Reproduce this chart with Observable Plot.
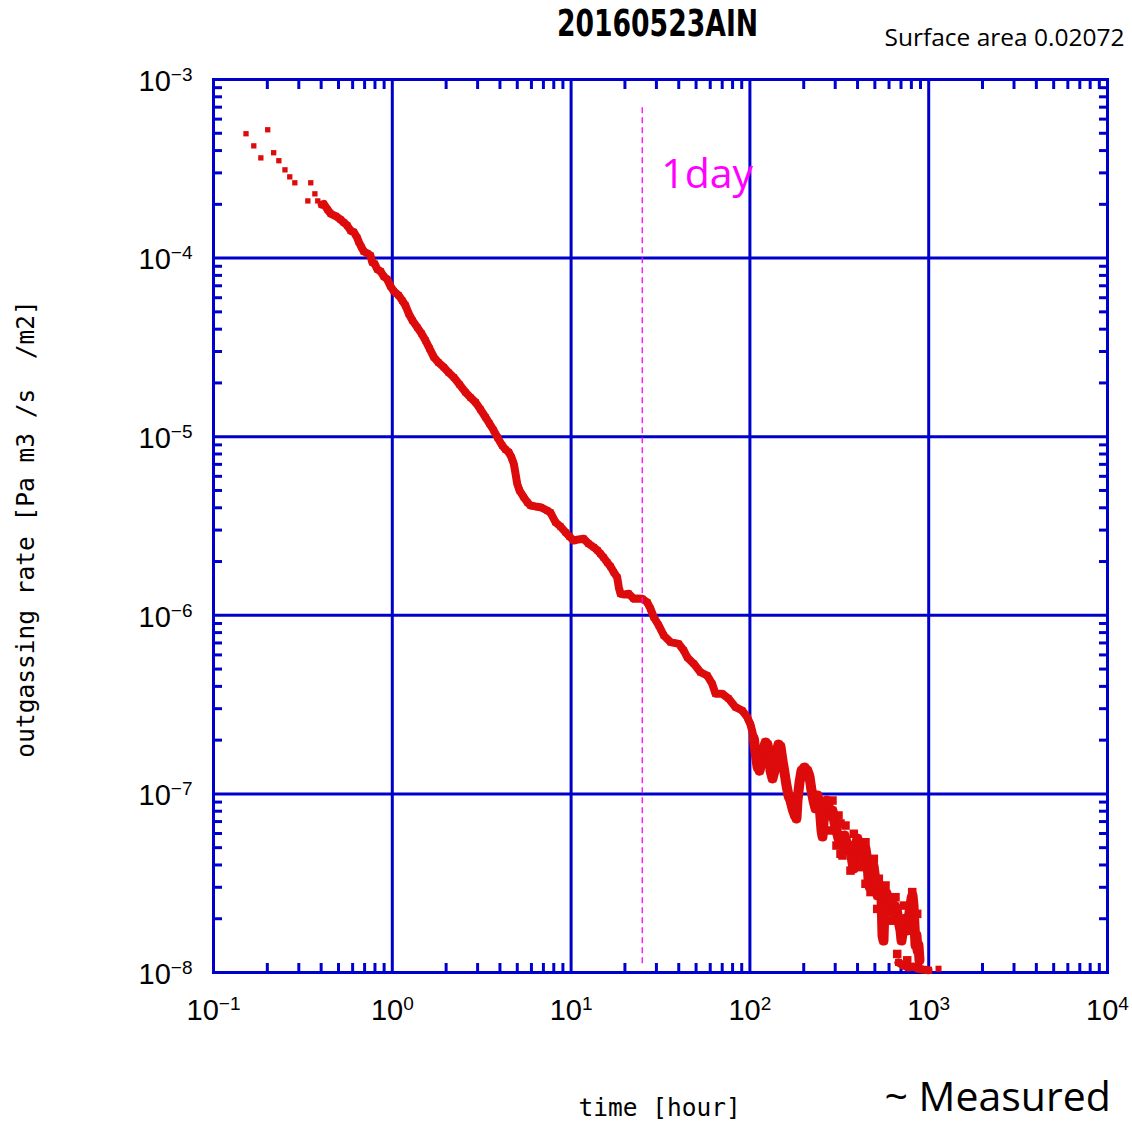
<!DOCTYPE html>
<html>
<head>
<meta charset="utf-8">
<script src="https://cdn.jsdelivr.net/npm/d3@7"></script>
<script src="https://cdn.jsdelivr.net/npm/@observablehq/plot@0.6"></script>
<style>
  html, body { margin: 0; padding: 0; background: #fff; }
  #chart { width: 1132px; height: 1121px; overflow: hidden; }
</style>
</head>
<body>
<div id="chart"></div>
<script>
// ---------- data ----------
// sparse early points (hours, Pa m3/s/m2)
const sparseTime = [0.152, 0.201, 0.168, 0.184, 0.217, 0.232, 0.251, 0.267, 0.285, 0.350, 0.369, 0.337, 0.383];
const sparseRate = [4.97e-4, 5.23e-4, 4.25e-4, 3.64e-4, 3.89e-4, 3.51e-4, 3.12e-4, 2.85e-4, 2.64e-4, 2.64e-4, 2.29e-4, 2.09e-4, 2.09e-4];

// dense, smooth part of the trace
const denseTime = [0.403, 0.414, 0.436, 0.453, 0.483, 0.515, 0.536, 0.560, 0.586, 0.609, 0.636, 0.650, 0.670, 0.693, 0.724, 0.755, 0.772, 0.798, 0.823, 0.859, 0.897, 0.936, 0.977, 1.02, 1.087, 1.136, 1.185,
  1.237, 1.297, 1.378, 1.457, 1.534, 1.615, 1.707, 1.813, 1.941, 2.063, 2.208, 2.376, 2.567, 2.738, 2.92, 3.113, 3.321, 3.497, 3.695, 3.876,
  4.117, 4.296, 4.483, 4.642, 4.782, 4.888, 4.995, 5.145, 5.439, 5.704, 5.928, 6.323, 6.745, 7.35, 7.67, 8.18, 8.72, 9.30, 9.80, 10.35,
  11.0, 11.78, 12.51, 13.40, 14.05, 14.60, 15.18, 15.92, 16.61, 17.34, 18.10, 18.48, 18.89, 19.89, 21.02, 22.43, 23.52, 24.98, 26.65, 27.81,
  29.0, 30.94, 33.0, 35.97, 40.02, 42.7, 44.6, 48.6, 52.9, 57.7, 61.5, 64.2, 70.0, 76.2, 83.1, 90.6, 96.6, 100.8, 103.4, 105.2];
const denseRate = [1.99e-4, 2.01e-4, 1.86e-4, 1.77e-4, 1.72e-4, 1.64e-4, 1.58e-4, 1.52e-4, 1.42e-4, 1.40e-4, 1.30e-4, 1.23e-4, 1.157e-4, 1.089e-4, 1.065e-4, 1.034e-4, 9.48e-5, 9.29e-5, 8.66e-5, 8.45e-5, 7.88e-5, 7.62e-5, 6.96e-5, 6.53e-5, 6.17e-5, 5.79e-5, 5.43e-5,
  4.88e-5, 4.47e-5, 4.10e-5, 3.78e-5, 3.46e-5, 3.12e-5, 2.79e-5, 2.60e-5, 2.45e-5, 2.29e-5, 2.15e-5, 1.96e-5, 1.775e-5, 1.657e-5, 1.56e-5, 1.42e-5, 1.286e-5, 1.185e-5, 1.083e-5, 9.9e-6,
  8.93e-6, 8.48e-6, 8.19e-6, 7.65e-6, 7.05e-6, 6.22e-6, 5.45e-6, 5.00e-6, 4.58e-6, 4.28e-6, 4.12e-6, 4.07e-6, 4.03e-6, 3.86e-6, 3.76e-6, 3.32e-6, 3.14e-6, 2.92e-6, 2.76e-6, 2.62e-6,
  2.66e-6, 2.68e-6, 2.52e-6, 2.405e-6, 2.31e-6, 2.21e-6, 2.11e-6, 1.98e-6, 1.875e-6, 1.742e-6, 1.634e-6, 1.437e-6, 1.32e-6, 1.307e-6, 1.32e-6, 1.237e-6, 1.242e-6, 1.237e-6, 1.184e-6, 1.088e-6,
  9.76e-7, 8.77e-7, 7.71e-7, 7.07e-7, 6.92e-7, 6.35e-7, 5.82e-7, 5.35e-7, 4.80e-7, 4.60e-7, 4.135e-7, 3.635e-7, 3.635e-7, 3.41e-7, 3.06e-7, 2.93e-7, 2.69e-7, 2.446e-7, 2.21e-7, 2.04e-7];

// noisy part after ~100 h
const noisyTime = [107.5, 110.3, 113.2, 116.1, 119.2, 122.3, 125.4, 128.7, 130.4, 133.8, 137.3, 140.8, 144.5, 148.3, 152.1, 156.1, 160.2, 164.4, 168.7, 173.1,
  177.6, 182.2, 184.6, 189.4, 194.4, 202.0, 209.9, 215.4, 221.1, 226.8, 232.8, 238.8, 245.1, 251.5, 254.7, 261.4, 268.2, 275.2, 282.4, 289.7,
  297.3, 305.0, 313.0, 321.1, 329.5, 338.1, 347.0, 356.0, 365.2, 374.8, 379.7, 389.6, 399.8, 410.2, 420.9, 431.8, 443.1, 454.6, 460.5, 466.5,
  478.6, 491.2, 504.0, 517.1, 530.6, 544.5, 551.5, 558.7, 565.9, 580.7, 595.8, 611.4, 627.3, 643.7, 660.6, 677.8, 695.6, 704.6, 723.0, 741.8,
  761.3, 781.1, 801.5, 811.9, 822.4, 833.0, 843.9, 854.8, 865.9, 877.1, 888.3];
const noisyRate = [1.705e-7, 1.42e-7, 1.35e-7, 1.50e-7, 1.795e-7, 1.94e-7, 1.89e-7, 1.64e-7, 1.35e-7, 1.22e-7, 1.35e-7, 1.705e-7, 1.89e-7, 1.84e-7, 1.54e-7, 1.317e-7, 1.114e-7, 9.79e-8, 9.18e-8, 8.28e-8,
  7.67e-8, 7.28e-8, 9.18e-8, 1.158e-7, 1.35e-7, 1.405e-7, 1.35e-7, 1.25e-7, 1.045e-7, 9.18e-8, 8.28e-8, 9.79e-8, 8.72e-8, 6.24e-8, 5.77e-8, 8.28e-8, 9.18e-8, 8.61e-8, 7.57e-8, 8.07e-8,
  6.92e-8, 6.24e-8, 5.63e-8, 5.77e-8, 5.14e-8, 5.85e-8, 5.34e-8, 4.82e-8, 4.95e-8, 4.13e-8, 3.82e-8, 5.14e-8, 5.63e-8, 4.82e-8, 4.35e-8, 4.82e-8, 4.95e-8, 4.13e-8, 3.36e-8, 3.03e-8,
  3.72e-8, 3.97e-8, 3.27e-8, 2.70e-8, 3.07e-8, 2.70e-8, 1.61e-8, 1.51e-8, 2.37e-8, 2.77e-8, 2.60e-8, 2.37e-8, 2.17e-8, 2.37e-8, 2.28e-8, 1.95e-8, 1.72e-8, 1.51e-8, 1.83e-8, 2.005e-8,
  1.72e-8, 2.17e-8, 2.60e-8, 2.70e-8, 2.37e-8, 1.83e-8, 1.42e-8, 1.61e-8, 1.33e-8, 1.42e-8, 1.17e-8];

// scattered points at the edges of the noisy band
const bandTime = [289.7, 313.0, 342.5, 282.4, 305.0, 329.5, 321.1, 381.2, 443.1, 493.2, 526.0, 573.4, 652.1, 725.5, 808.7, 862.4,
  321.1, 365.2, 415.5, 443.1, 472.6, 515.2, 611.4, 666.5, 758.3];
const bandRate = [9.18e-8, 7.57e-8, 6.65e-8, 6.24e-8, 5.14e-8, 4.52e-8, 6.83e-8, 5.98e-8, 5.36e-8, 4.33e-8, 3.35e-8, 3.07e-8, 2.64e-8, 2.37e-8, 2.82e-8, 2.13e-8,
  4.62e-8, 3.72e-8, 3.89e-8, 3.14e-8, 2.82e-8, 2.27e-8, 1.95e-8, 1.27e-8, 1.17e-8];

// points lying on the bottom edge near 1000 h
const tailTime = [677.8, 723.0, 770.9, 822.4, 877.1, 935.3, 997.5];
const tailRate = [1.138e-8, 1.094e-8, 1.067e-8, 1.08e-8, 1.05e-8, 1.039e-8, 1.03e-8];
const loneTime = [1135];
const loneRate = [1.05e-8];

// 1 day marker
const dayHours = 25;
const dayLineRange = [1.12e-8, 7.3e-4];
const dayLabel = "1day";

// axes
const xDomain = [0.1, 1e4];
const yDomain = [1e-8, 1e-3];
const xMajor = [0.1, 1, 10, 100, 1000, 10000];
const yMajor = [1e-8, 1e-7, 1e-6, 1e-5, 1e-4, 1e-3];
const xGrid = [1, 10, 100, 1000];
const yGrid = [1e-7, 1e-6, 1e-5, 1e-4];
const minorSteps = [2, 3, 4, 5, 6, 7, 8, 9];
const xMinor = xMajor.slice(0, -1).flatMap(d => minorSteps.map(k => +(d * k).toPrecision(3)));
const yMinor = yMajor.slice(0, -1).flatMap(d => minorSteps.map(k => +(d * k).toPrecision(3)));

// texts
const titleText = "20160523AIN";
const areaText = "Surface area 0.02072";
const xLabel = "time [hour]";
const yLabel = "outgassing rate [Pa m3 /s\u00a0\u00a0/m2]";
const noteText = "~ Measured";

// ---------- chart ----------
const RED = "#dd0b0b", BLUE = "#0000cd", MAGENTA = "#ff00ff";
const TICKFONT = "'Liberation Sans', Arial, sans-serif";
const MONO = "'DejaVu Sans Mono', 'Liberation Mono', monospace";
const rows = (ts, rs) => ts.map((t, i) => ({t, r: rs[i]}));
const sparse = rows(sparseTime, sparseRate);
const dense = rows(denseTime, denseRate);
const noisy = rows(denseTime.slice(-1).concat(noisyTime), denseRate.slice(-1).concat(noisyRate));
const band = rows(bandTime, bandRate);
const tail = rows(tailTime, tailRate);
const lone = rows(loneTime, loneRate);
const expFmt = d => "10^" + Math.round(Math.log10(d));
const minorOpts = {tickSize: -9, stroke: BLUE, strokeWidth: 3, tickFormat: () => "", label: null};

const svg = Plot.plot({
  width: 1132,
  height: 1121,
  marginLeft: 213,
  marginRight: 25,
  marginTop: 79,
  marginBottom: 149,
  style: {background: "white", color: "black", fontFamily: TICKFONT},
  x: {type: "log", domain: xDomain, label: null},
  y: {type: "log", domain: yDomain, label: null},
  marks: [
    Plot.gridX(xGrid, {stroke: BLUE, strokeOpacity: 1, strokeWidth: 3}),
    Plot.gridY(yGrid, {stroke: BLUE, strokeOpacity: 1, strokeWidth: 3}),
    Plot.frame({stroke: BLUE, strokeWidth: 3}),
    Plot.axisX(xMinor, {anchor: "bottom", ...minorOpts}),
    Plot.axisX(xMinor, {anchor: "top", ...minorOpts}),
    Plot.axisY(yMinor, {anchor: "left", ...minorOpts}),
    Plot.axisY(yMinor, {anchor: "right", ...minorOpts}),
    Plot.axisX(xMajor, {anchor: "bottom", tickSize: 0, tickPadding: 27, tickFormat: expFmt,
      fontSize: 29, fontFamily: TICKFONT, fill: "black", label: null}),
    Plot.axisY(yMajor, {anchor: "left", tickSize: 0, tickPadding: 21, dy: 2, tickFormat: expFmt,
      fontSize: 29, fontFamily: TICKFONT, fill: "black", label: null}),
    Plot.line(dense, {x: "t", y: "r", stroke: RED, strokeWidth: 8}),
    Plot.dot(dense, {x: "t", y: "r", symbol: "square", r: 3.6, fill: RED}),
    Plot.line(noisy, {x: "t", y: "r", stroke: RED, strokeWidth: 10}),
    Plot.dot(noisy, {x: "t", y: "r", symbol: "square", r: 4.4, fill: RED}),
    Plot.dot(band, {x: "t", y: "r", symbol: "square", r: 4.8, fill: RED}),
    Plot.dot(sparse, {x: "t", y: "r", symbol: "square", r: 3.0, fill: RED}),
    Plot.line(tail, {x: "t", y: "r", stroke: RED, strokeWidth: 8}),
    Plot.dot(tail, {x: "t", y: "r", symbol: "square", r: 4, fill: RED}),
    Plot.dot(lone, {x: "t", y: "r", symbol: "square", r: 3.4, fill: RED}),
    Plot.ruleX([dayHours], {y1: dayLineRange[0], y2: dayLineRange[1], stroke: MAGENTA, strokeWidth: 1.3, strokeDasharray: "6,4"}),
    Plot.text([{t: dayHours, s: dayLabel}], {x: "t", text: "s", frameAnchor: "top", dx: 19, dy: 108,
      lineAnchor: "bottom", textAnchor: "start", fontSize: 41, fontFamily: "'Open Sans', sans-serif", fill: MAGENTA}),
    Plot.text([titleText], {frameAnchor: "top", dx: -3, dy: -44, lineAnchor: "bottom", textAnchor: "middle",
      fontSize: 38, fontWeight: "bold", fontFamily: "'DejaVu Sans Condensed', 'DejaVu Sans', sans-serif", fill: "black"}),
    Plot.text([areaText], {frameAnchor: "top-left", dx: 671, dy: -34, lineAnchor: "bottom", textAnchor: "start",
      fontSize: 24.5, fontFamily: "'Open Sans', sans-serif", fill: "black"}),
    Plot.text([xLabel], {frameAnchor: "bottom", dx: -1, dy: 143, lineAnchor: "bottom", textAnchor: "middle",
      fontSize: 24.5, fontFamily: MONO, fill: "black"}),
    Plot.text([noteText], {frameAnchor: "bottom-left", dx: 671, dy: 138, lineAnchor: "bottom", textAnchor: "start",
      fontSize: 41, fontFamily: "'Open Sans', sans-serif", fill: "black"}),
    Plot.text([yLabel], {frameAnchor: "left", rotate: -90, dx: -180, dy: 3, lineAnchor: "bottom", textAnchor: "middle",
      fontSize: 24.5, fontFamily: MONO, fill: "black"})
  ]
});

// turn "10^-3" tick labels into 10 with a superscript exponent; narrow the title
d3.select(svg).selectAll("text").each(function () {
  const s = this.textContent;
  const sel = d3.select(this);
  if (s === titleText) {
    const tr = sel.attr("transform") || "";
    sel.attr("transform", tr + " scale(0.78,1)");
    return;
  }
  if (!/^10\^/.test(s)) return;
  const e = s.slice(3).replace("-", "\u2212");
  sel.text(null);
  sel.append("tspan").text("10");
  sel.append("tspan").attr("dy", -10).attr("font-size", 19).text(e);
});

document.getElementById("chart").appendChild(svg);
</script>
</body>
</html>
